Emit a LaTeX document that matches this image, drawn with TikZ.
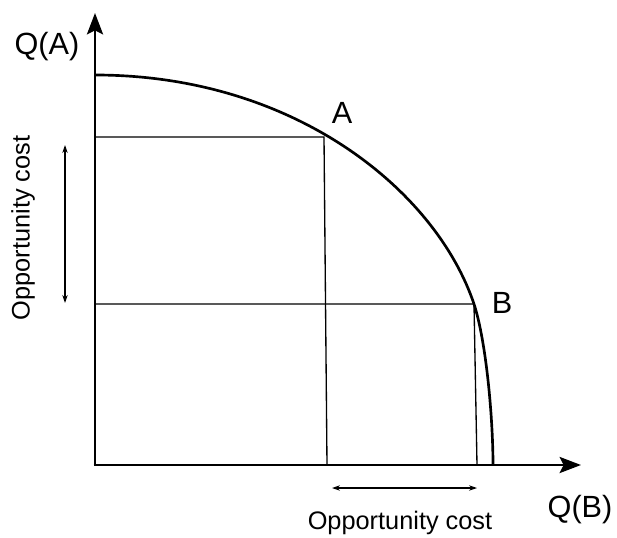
\documentclass[tikz,border=0pt]{standalone}
\usepackage{fontspec}
\setmainfont{Liberation Sans}
\usetikzlibrary{arrows.meta}
\usetikzlibrary{positioning}

\tikzset{
  axis/.style={line width=2.2pt,-{Stealth[length=16pt,width=12pt,inset=3pt]}},
  guide/.style={line width=1pt},
  span/.style={line width=0.8pt,{Stealth[length=6pt,width=4pt]}-{Stealth[length=6pt,width=4pt]}},
  bigtxt/.style={font=\fontsize{23}{27}\selectfont, inner sep=0pt},
  smalltxt/.style={font=\fontsize{19}{23}\selectfont, inner sep=0pt}
}

\begin{document}
\begin{tikzpicture}[x=0.75pt,y=-0.75pt]
    \useasboundingbox (0,0) rectangle (617,538);

    \coordinate (o) at (95,465);
    \coordinate (ytip) at (95,13);
    \coordinate (xtip) at (581,465);
    \coordinate (a) at (324,137);
    \coordinate (afoot) at (327,465);
    \coordinate (b) at (474,304);
    \coordinate (bfoot) at (477,465);
    \coordinate (aleft) at (95,137);
    \coordinate (bleft) at (95,304);
    \coordinate (ftop) at (95,75);
    \coordinate (fend) at (493,465);

    \node[bigtxt] (qa) at (47,47) {Q(A)};
    \node[bigtxt] (qb) at (580,510) {Q(B)};
    \node[bigtxt] (la) at (342,113) {A};
    \node[bigtxt] (lb) at (502,303) {B};

    \node[smalltxt, rotate=90] (ocy) at (23,228) {Opportunity cost};
    \node[smalltxt] (ocx) at (400,523) {Opportunity cost};

    \coordinate (vtop) at (65,145);
    \coordinate (vbot) at (65,303);
    \coordinate (hleft) at (332,488);
    \coordinate (hright) at (477,488);

    % guide lines
    \draw[guide] (aleft) -- (a) -- (afoot);
    \draw[guide] (bleft) -- (b) -- (bfoot);

    % frontier
    \draw[line width=2pt] (ftop) .. controls (295,75) and (436,191) .. (b)
      .. controls (486.6,343) and (493,420) .. (fend);

    % axes
    \draw[axis] (o) -- (ytip);
    \draw[axis] ([xshift=-1pt]o) -- (xtip);

    \draw[span] (vtop) -- (vbot);
    \draw[span] (hleft) -- (hright);

\end{tikzpicture}
\end{document}
